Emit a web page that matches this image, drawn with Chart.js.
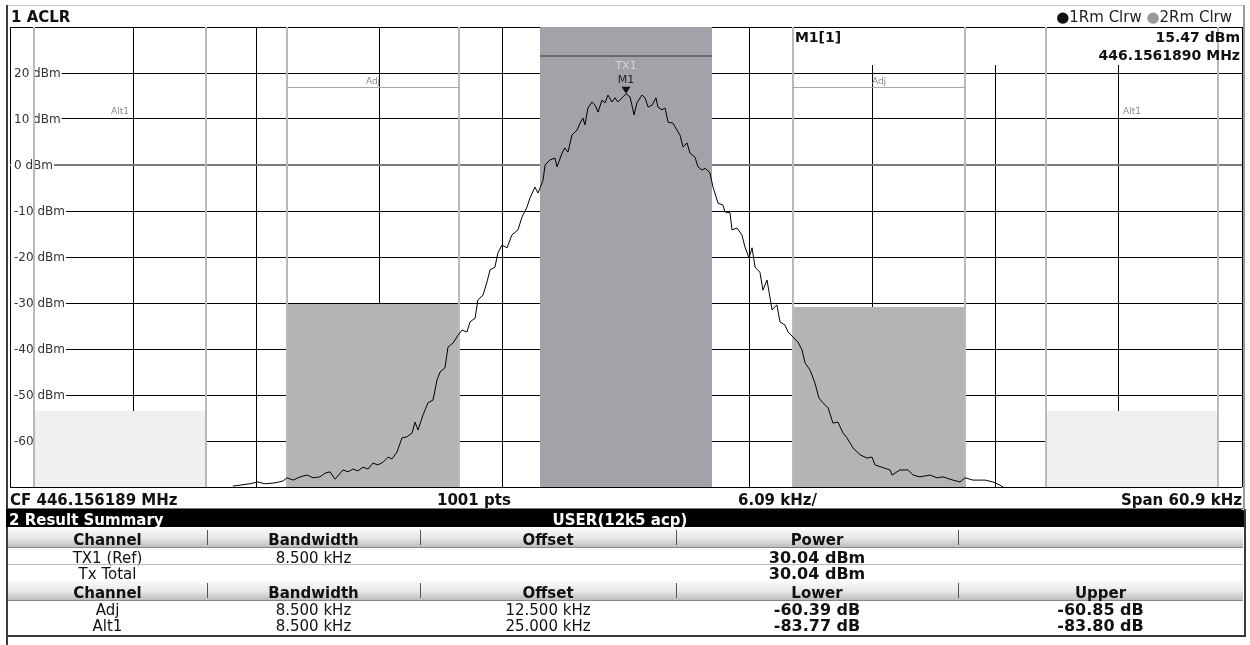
<!DOCTYPE html>
<html><head><meta charset="utf-8">
<script src="https://cdn.jsdelivr.net/npm/chart.js@4.4.0/dist/chart.umd.min.js"></script>
<style>
body{margin:0;width:1250px;height:645px;overflow:hidden;background:#fff;font-family:"DejaVu Sans",sans-serif;position:relative}
#wrap{position:absolute;left:0;top:0;width:1250px;height:645px}
.abs{position:absolute;white-space:nowrap;line-height:1}
.hdr{position:absolute;background:linear-gradient(#fbfbfb,#e6e6e6 55%,#bdbdbd);border-bottom:1px solid #888}
.sep{position:absolute;width:1px;background:#555}
</style></head><body>
<div id="wrap"><canvas id="c"></canvas></div>
<div id="ov"></div>
<script>
// ---- data ----
const traceFreqKHz = [-19.43,-19.08,-18.59,-18.19,-17.85,-17.35,-16.96,-16.76,-16.46,-16.11,
-15.77,-15.47,-15.13,-14.88,-14.63,-14.38,-13.99,-13.74,-13.50,-13.25,
-13.00,-12.75,-12.51,-12.26,-12.01,-11.76,-11.57,-11.32,-11.07,-10.83,
-10.58,-10.43,-10.28,-10.03,-9.79,-9.54,-9.34,-9.19,-8.95,-8.80,
-8.55,-8.30,-8.11,-7.86,-7.71,-7.46,-7.32,-7.07,-6.87,-6.72,
-6.48,-6.33,-6.13,-5.88,-5.64,-5.34,-5.14,-4.89,-4.75,-4.50,
-4.35,-4.25,-4.10,-4.00,-3.76,-3.51,-3.41,-3.16,-3.02,-2.87,
-2.67,-2.42,-2.27,-2.13,-2.03,-1.88,-1.68,-1.53,-1.38,-1.19,
-1.04,-0.89,-0.69,-0.54,-0.40,-0.15,0.00,0.20,0.40,0.54,
0.79,0.94,1.09,1.29,1.48,1.58,1.78,1.93,2.08,2.32,
2.52,2.67,2.82,3.02,3.16,3.41,3.56,3.76,3.91,4.15,
4.30,4.55,4.79,4.89,5.14,5.24,5.49,5.73,5.88,6.08,
6.23,6.38,6.62,6.77,6.97,7.22,7.46,7.61,7.86,8.01,
8.26,8.50,8.70,8.85,9.10,9.34,9.54,9.74,9.99,10.23,
10.48,10.73,10.92,11.22,11.57,11.91,12.16,12.31,12.65,13.05,
13.15,13.54,13.94,14.19,14.53,15.03,15.37,15.67,16.16,16.51,
16.76,17.15,17.75,18.14,18.49,18.74];
const traceLevelDbm = [-69.8,-69.6,-69.3,-68.9,-69.3,-69.1,-68.7,-68.0,-68.5,-67.8,
-67.4,-68.0,-67.8,-67.0,-66.7,-68.3,-66.3,-66.7,-66.1,-66.5,
-65.7,-66.1,-64.8,-65.2,-64.6,-63.5,-63.9,-62.4,-59.3,-59.1,
-58.3,-55.9,-57.6,-54.3,-51.7,-51.1,-46.7,-45.0,-44.1,-39.6,
-38.7,-37.0,-35.9,-36.3,-34.1,-33.3,-29.3,-28.3,-25.4,-22.8,
-22.2,-19.1,-17.4,-18.0,-15.2,-14.1,-11.3,-9.1,-7.2,-4.8,
-6.1,-5.0,-3.3,0.0,1.1,1.5,-0.4,2.6,3.7,2.8,
6.5,7.6,9.1,10.2,8.7,12.4,13.7,13.0,11.5,14.1,
13.5,15.2,13.7,14.6,13.7,14.8,15.47,14.8,10.9,13.5,
15.2,14.6,12.6,13.0,14.6,12.6,12.0,12.4,9.3,9.1,
7.6,6.5,3.9,4.8,2.6,1.7,-0.4,-1.1,-0.7,-1.7,
-4.8,-8.3,-8.7,-10.2,-10.4,-14.1,-13.7,-15.2,-17.8,-20.2,
-18.0,-22.2,-23.3,-27.2,-25.0,-31.5,-30.4,-34.1,-34.8,-36.3,
-37.4,-38.5,-40.2,-43.0,-44.6,-47.4,-50.7,-51.7,-52.8,-56.1,
-55.9,-58.3,-59.3,-61.5,-63.0,-63.7,-63.5,-65.2,-65.7,-66.3,
-67.4,-66.3,-66.3,-67.4,-67.8,-67.4,-68.0,-67.8,-68.5,-68.9,
-68.0,-68.5,-68.5,-68.9,-69.6,-70.3];
const spanKHz = 60.9;
const divKHz = 6.09;
const refLevelDbm = 30;
const bottomDbm = -70;
const yTicks = [20,10,0,-10,-20,-30,-40,-50,-60];
const yTickLabels = ['20 dBm','10 dBm','0 dBm','-10 dBm','-20 dBm','-30 dBm','-40 dBm','-50 dBm','-60 dBm'];
const channelNames = ['Alt1','Adj','TX1','Adj','Alt1'];
const channelOffsetKHz = [-25,-12.5,0,12.5,25];
const channelBwKHz = [8.5,8.5,8.5,8.5,8.5];
const channelBoxTopDbm = [-53.5,-30.2,30,-30.9,-53.5];
const channelLimitDbm = [10.2,16.7,23.7,16.7,10.2];
const markerName = 'M1';
const markerFreqKHz = 0;
const markerLevelDbm = 15.47;
const markerInfo = ['M1[1]','15.47 dBm','446.1561890 MHz'];
const statusTexts = ['CF 446.156189 MHz','1001 pts','6.09 kHz/','Span 60.9 kHz'];
const tableTitle = ['2 Result Summary','USER(12k5 acp)'];
const tableHeader1 = ['Channel','Bandwidth','Offset','Power',''];
const tableRowsTx = [['TX1 (Ref)','8.500 kHz','','30.04 dBm',''],['Tx Total','','','30.04 dBm','']];
const tableHeader2 = ['Channel','Bandwidth','Offset','Lower','Upper'];
const tableRowsAcp = [['Adj','8.500 kHz','12.500 kHz','-60.39 dB','-60.85 dB'],['Alt1','8.500 kHz','25.000 kHz','-83.77 dB','-83.80 dB']];

// ---- styles ----
const FONT = '"DejaVu Sans", sans-serif';
const channelFill = ['#f0f0f0','#b4b4b4','#a3a2a8','#b4b4b4','#f0f0f0'];

const overlay = {
  id:'overlay',
  beforeDatasetsDraw(chart){
    const {ctx, chartArea:a, scales:{x,y}} = chart;
    ctx.save();
    // y labels with white background
    ctx.font = '12px '+FONT; ctx.textBaseline='middle';
    yTicks.forEach((v,i)=>{
      const py = y.getPixelForValue(v);
      const t = yTickLabels[i];
      const w = ctx.measureText(t).width;
      ctx.fillStyle='#fff'; ctx.fillRect(a.left+1, py-6, w+4, 13);
      ctx.fillStyle='#333'; ctx.fillText(t, a.left+4, py+1);
    });
    // marker info white area
    const ix = x.getPixelForValue(channelOffsetKHz[3]-channelBwKHz[3]/2);
    ctx.fillStyle='#fff';
    ctx.fillRect(ix-3, a.top+1, a.right-ix+2, 37);
    // channel boxes
    channelOffsetKHz.forEach((off,i)=>{
      const x0 = x.getPixelForValue(off-channelBwKHz[i]/2), x1 = x.getPixelForValue(off+channelBwKHz[i]/2);
      const yt = Math.round(y.getPixelForValue(channelBoxTopDbm[i]));
      ctx.fillStyle = channelFill[i];
      ctx.fillRect(Math.round(x0), yt, Math.round(x1)-Math.round(x0), a.bottom-yt);
    });
    // channel boundary lines
    channelOffsetKHz.forEach((off,i)=>{
      if (channelNames[i]==='TX1') return;
      [off-channelBwKHz[i]/2, off+channelBwKHz[i]/2].forEach(f=>{
        const px = Math.round(x.getPixelForValue(f));
        ctx.fillStyle = '#b9b9b9';
        ctx.fillRect(px-1, a.top, 2, a.bottom-a.top);
      });
    });
    // limit lines + labels
    channelOffsetKHz.forEach((off,i)=>{
      const x0 = Math.round(x.getPixelForValue(off-channelBwKHz[i]/2)), x1 = Math.round(x.getPixelForValue(off+channelBwKHz[i]/2));
      const py = Math.round(y.getPixelForValue(channelLimitDbm[i]));
      const isTx = channelNames[i]==='TX1';
      const isAdj = channelNames[i]==='Adj';
      if (isTx || isAdj) {
        ctx.fillStyle = isTx ? '#6a6a6e' : '#a8a8a8';
        ctx.fillRect(x0, py-1, x1-x0, isTx?2:1);
      }
      ctx.font = (isTx?'11px ':'9px ')+FONT; ctx.textAlign='center'; ctx.textBaseline='middle';
      ctx.fillStyle = isTx ? '#d6d6d8' : '#8a8a8a';
      ctx.fillText(channelNames[i], (x0+x1)/2, py + (isTx? 10 : -6));
    });
    ctx.restore();
  },
  afterDatasetsDraw(chart){
    const {ctx, chartArea:a, scales:{x,y}} = chart;
    ctx.save();
    const mx = x.getPixelForValue(markerFreqKHz), my = y.getPixelForValue(markerLevelDbm);
    ctx.fillStyle='#111';
    ctx.beginPath(); ctx.moveTo(mx-4.5, my-7); ctx.lineTo(mx+4.5, my-7); ctx.lineTo(mx, my); ctx.closePath(); ctx.fill();
    ctx.font='11px '+FONT; ctx.textAlign='center'; ctx.textBaseline='middle'; ctx.fillStyle='#222';
    ctx.fillText(markerName, mx, my-14);
    // marker info text
    const ix = x.getPixelForValue(channelOffsetKHz[3]-channelBwKHz[3]/2);
    ctx.font='bold 14px '+FONT; ctx.fillStyle='#111'; ctx.textBaseline='middle';
    ctx.textAlign='left'; ctx.fillText(markerInfo[0], ix+2, a.top+11);
    ctx.textAlign='right'; ctx.fillText(markerInfo[1], a.right-2, a.top+11);
    ctx.fillText(markerInfo[2], a.right-2, a.top+29);
    ctx.restore();
  }
};

const xDivs = [];
for (let i=0;i<=10;i++) xDivs.push(-spanKHz/2 + i*divKHz);

new Chart(document.getElementById('c'), {
  type:'line',
  data:{datasets:[{
    data: traceFreqKHz.map((f,i)=>({x:f, y:traceLevelDbm[i]})),
    borderColor:'#000', borderWidth:1, pointRadius:0, tension:0, fill:false
  }]},
  options:{
    responsive:true, maintainAspectRatio:false, animation:false,
    layout:{padding:{left:10, top:27, right:8, bottom:158}},
    plugins:{legend:{display:false}, tooltip:{enabled:false}},
    scales:{
      x:{type:'linear', min:-spanKHz/2, max:spanKHz/2,
         afterBuildTicks: ax => { ax.ticks = xDivs.map(v=>({value:v})); },
         ticks:{display:false}, border:{display:false},
         grid:{color:'#000', lineWidth:1, drawTicks:false}},
      y:{type:'linear', min:bottomDbm, max:refLevelDbm,
         afterBuildTicks: ax => { const t=[]; for(let v=bottomDbm; v<=refLevelDbm; v+=10) t.push({value:v}); ax.ticks=t; },
         ticks:{display:false}, border:{display:false},
         grid:{drawTicks:false, color: c => c.tick && c.tick.value===0 ? '#7a7a7a' : '#000',
               lineWidth: c => c.tick && c.tick.value===0 ? 2 : 1}}
    }
  },
  plugins:[overlay]
});

// ---- HTML overlays: header, status bar, table ----
const ov = document.getElementById('ov');
const F = FONT.replace(/"/g,"'");
function el(html){ ov.insertAdjacentHTML('beforeend', html); }
// outer frame
el('<div class="abs" style="left:6px;top:5px;width:2px;height:640px;background:#3a3a3a"></div>');
el('<div class="abs" style="left:1243px;top:5px;width:2px;height:504px;background:#9a9a9a"></div>');
el('<div class="abs" style="left:8px;top:5px;width:1235px;height:1px;background:#c8c8c8"></div>');
// header
el('<div class="abs" style="left:11px;top:8px;font:bold 15px '+F+';color:#111">1 ACLR</div>');
el('<div class="abs" style="right:18px;top:8px;font:15px '+F+';color:#222"><span style="color:#111">●</span>1Rm Clrw <span style="color:#999">●</span>2Rm Clrw</div>');
// status bar
const sf = 'font:bold 15px '+F+';color:#111;top:491px';
el('<div class="abs" style="left:8px;top:487px;width:1235px;height:21px;border-bottom:1px solid #777"></div>');
el('<div class="abs" style="'+sf+';left:10px">'+statusTexts[0]+'</div>');
el('<div class="abs" style="'+sf+';left:437px">'+statusTexts[1]+'</div>');
el('<div class="abs" style="'+sf+';left:738px">'+statusTexts[2]+'</div>');
el('<div class="abs" style="'+sf+';right:8px">'+statusTexts[3]+'</div>');
// table title bar
el('<div class="abs" style="left:6px;top:509px;width:1240px;height:18px;background:#000;border-top-right-radius:6px"></div>');
el('<div class="abs" style="left:9px;top:511px;font:bold 15px '+F+';color:#fff">'+tableTitle[0]+'</div>');
el('<div class="abs" style="left:540px;top:511px;width:160px;text-align:center;font:bold 15px '+F+';color:#fff">'+tableTitle[1]+'</div>');
el('<div class="abs" style="left:1244px;top:509px;width:2px;height:128px;background:#3a3a3a"></div>');
el('<div class="abs" style="left:6px;top:635px;width:1240px;height:2px;background:#3a3a3a"></div>');
const colEdges = [8,207,420,676,958,1243];
function hdrRow(top, cells){
  el('<div class="hdr" style="left:8px;top:'+top+'px;width:1235px;height:19px"></div>');
  cells.forEach((t,i)=>{
    const l=colEdges[i], w=colEdges[i+1]-colEdges[i];
    el('<div class="abs" style="left:'+l+'px;width:'+w+'px;top:'+(top+3)+'px;text-align:center;font:bold 15px '+F+';color:#111">'+t+'</div>');
    if(i>0) el('<div class="sep" style="left:'+l+'px;top:'+(top+2)+'px;height:15px"></div>');
  });
}
function dataRow(top, cells, line){
  if(line) el('<div class="abs" style="left:8px;top:'+(top-1)+'px;width:1235px;height:1px;background:#bbb"></div>');
  cells.forEach((t,i)=>{
    const l=colEdges[i], w=colEdges[i+1]-colEdges[i];
    const bold = i>=3;
    el('<div class="abs" style="left:'+l+'px;width:'+w+'px;top:'+(top+(bold?-1:0))+'px;text-align:center;font:'+(bold?'bold 16px ':'15px ')+F+';color:#111">'+t+'</div>');
  });
}
hdrRow(528, tableHeader1);
dataRow(549, tableRowsTx[0], false);
dataRow(565, tableRowsTx[1], true);
hdrRow(581, tableHeader2);
dataRow(601, tableRowsAcp[0], false);
dataRow(617, tableRowsAcp[1], false);
</script>
</body></html>
